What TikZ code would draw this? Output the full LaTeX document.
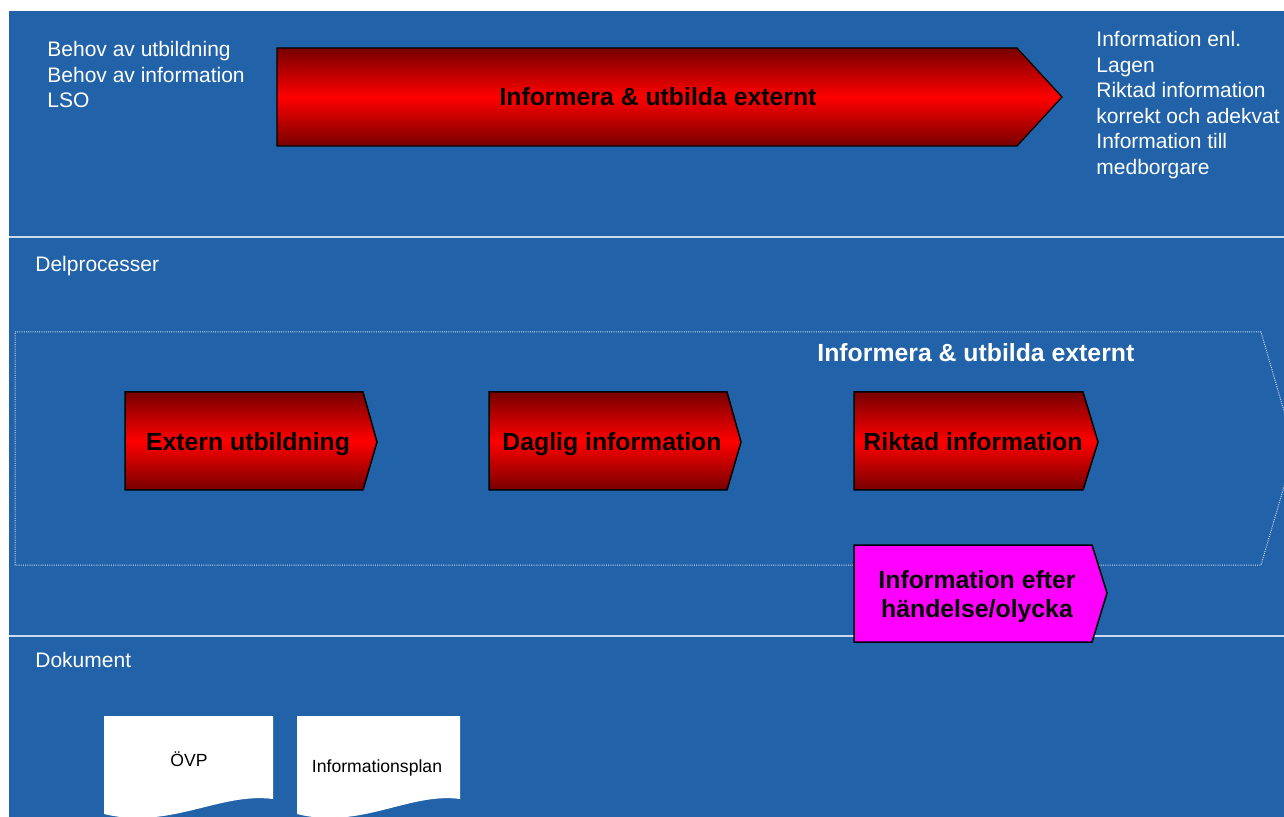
\documentclass[tikz,border=0pt]{standalone}
\usepackage{fontspec}
\setmainfont{Liberation Sans}
\usepackage{xcolor}
\definecolor{bgblue}{RGB}{34,98,169}
\definecolor{sepcol}{RGB}{205,218,236}
\definecolor{dkred}{RGB}{118,0,0}
\definecolor{procmag}{RGB}{255,0,255}
\tikzset{%
  proc arrow/.style = {
    draw = black, line width = 0.75pt,
    top color = dkred, bottom color = dkred, middle color = red,
  },
  sep line/.style = {draw = sepcol, line width = 0.8pt},
  dotted frame/.style = {
    draw = sepcol, line width = 0.5pt,
    dash pattern = {on 0.5pt off 0.6pt},
  },
  info text/.style = {
    text = white, inner sep = 0pt, align = left,
    font = \fontsize{10.5}{12.75}\selectfont,
  },
  proc label/.style = {
    inner sep = 0pt, anchor = base,
    font = \bfseries\fontsize{12.4}{14.5}\selectfont,
  },
  doc label/.style = {
    inner sep = 0pt, anchor = base,
    font = \fontsize{8.8}{10.5}\selectfont,
  }
}

\begin{document}
\begin{tikzpicture}[x=0.5pt,y=-0.5pt]
\useasboundingbox (0,0) rectangle (1284,817);
\clip (0,0) rectangle (1284,817);
\fill[bgblue] (9,11) rectangle (1284,817);
% lanes
\draw[sep line] (9,237) -- (1284,237);
\draw[sep line] (9,636) -- (1284,636);
\draw[dotted frame] (15,332) -- (1261,332) -- (1295,449) -- (1261,565)
  -- (15,565) -- cycle;
% main process
\shadedraw[proc arrow, line width=0.6pt] (277,48) -- (1017,48) -- (1062,97)
  -- (1017,146) -- (277,146) -- cycle;
\node[proc label] (mainlbl) at (658,106) {Informera \& utbilda externt};
\node[info text, anchor=north west] (needs) at (47,41)
  {Behov av utbildning\\Behov av information\\LSO};
\node[info text, anchor=north west] (outputs) at (1096,31)
  {Information enl.\\Lagen\\Riktad information\\korrekt och adekvat\\
   Information till\\medborgare};
\node[info text, anchor=base west] (delp) at (35,272) {Delprocesser};
\node[info text, anchor=base west] (dok) at (35,667) {Dokument};
% sub processes
\node[proc label, anchor=base west, text=white] (subtitle) at (817,362)
  {Informera \& utbilda externt};
\shadedraw[proc arrow] (125,392) -- (363,392) -- (377,442) -- (363,490)
  -- (125,490) -- cycle;
\shadedraw[proc arrow] (489,392) -- (727,392) -- (741,442) -- (727,490)
  -- (489,490) -- cycle;
\shadedraw[proc arrow] (854,392) -- (1083,392) -- (1098,442) -- (1083,490)
  -- (854,490) -- cycle;
\filldraw[fill=procmag, draw=black, line width=0.75pt] (854,545) -- (1092,545)
  -- (1107,593) -- (1092,642) -- (854,642) -- cycle;
\node[proc label] (ext) at (248,451) {Extern utbildning};
\node[proc label] (dag) at (612,451) {Daglig information};
\node[proc label] (rik) at (973,451) {Riktad information};
\node[proc label, anchor=north, align=center] (eft) at (977,570)
  {Information efter\\händelse/olycka};
% documents
\fill[white] (104,716) -- (273,716) -- (273,799) .. controls (220,792)
  and (170,830) .. (104,814) -- cycle;
\fill[white] (297,716) -- (460,716) -- (460,799) .. controls (410,792)
  and (360,830) .. (297,814) -- cycle;
\node[doc label] (ovp) at (189,766) {ÖVP};
\node[doc label] (infplan) at (377,772) {Informationsplan};
\end{tikzpicture}
\end{document}
